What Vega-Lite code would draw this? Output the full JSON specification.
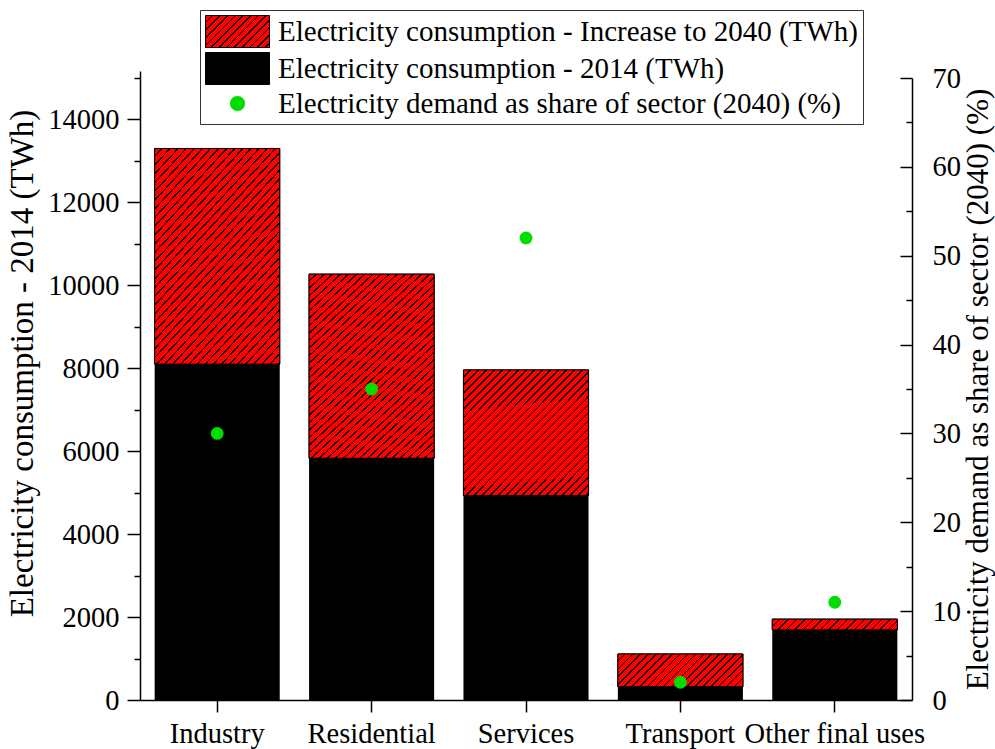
{
"$schema":"https://vega.github.io/schema/vega-lite/v6.json",
"width":772,"height":622,
"autosize":{"type":"none"},
"padding":{"left":140,"top":78,"right":83,"bottom":49},
"background":"white",
"config":{"view":{"stroke":null},
 "axis":{"labelFont":"Liberation Serif","titleFont":"Liberation Serif","labelFontSize":28.5,"titleFontSize":33,"titleFontWeight":"normal","labelColor":"black","titleColor":"black","domainColor":"black","tickColor":"black","domainWidth":1.5,"tickWidth":1.5,"grid":false}},
"data":{"values":[
 {"sector":"Industry","c2014":8100,"total2040":13300,"share2040":30},
 {"sector":"Residential","c2014":5830,"total2040":10270,"share2040":35},
 {"sector":"Services","c2014":4930,"total2040":7960,"share2040":52},
 {"sector":"Transport","c2014":320,"total2040":1110,"share2040":2},
 {"sector":"Other final uses","c2014":1690,"total2040":1950,"share2040":11}
]},
"layer":[
 {"layer":[
  {"mark":{"type":"bar","width":{"band":0.81},"stroke":"black","strokeWidth":1},
   "encoding":{
    "x":{"field":"sector","type":"nominal","sort":null,"title":null,"scale":{"paddingInner":0,"paddingOuter":0},
     "axis":{"labelAngle":0,"tickSize":12,"labelPadding":7,"labelOverlap":false,"labelBound":false,"labelLimit":400}},
    "y":{"field":"total2040","type":"quantitative","scale":{"domain":[0,15000],"nice":false},"title":"Electricity consumption - 2014 (TWh)",
     "axis":{"values":[0,1000,2000,3000,4000,5000,6000,7000,8000,9000,10000,11000,12000,13000,14000,15000],"format":"d",
      "labelExpr":"datum.value % 2000 === 0 ? datum.label : ''",
      "tickSize":{"condition":{"test":"datum.value % 2000 === 0","value":13},"value":6},
      "labelPadding":8,"titlePadding":8,"titleY":285}},
    "y2":{"field":"c2014"},
    "fill":{"datum":"Electricity consumption - Increase to 2040 (TWh)","type":"nominal",
     "scale":{"domain":["Electricity consumption - Increase to 2040 (TWh)","Electricity consumption - 2014 (TWh)","Electricity demand as share of sector (2040) (%)"],
      "range":[{"expr":"{gradient:'linear',x1:0,y1:0,x2:1.2,y2:0.6,stops:[{offset:0,color:'red'},{offset:0.064,color:'red'},{offset:0.064,color:'#000'},{offset:0.08,color:'#000'},{offset:0.08,color:'red'},{offset:0.144,color:'red'},{offset:0.144,color:'#000'},{offset:0.16,color:'#000'},{offset:0.16,color:'red'},{offset:0.224,color:'red'},{offset:0.224,color:'#000'},{offset:0.24,color:'#000'},{offset:0.24,color:'red'},{offset:0.304,color:'red'},{offset:0.304,color:'#000'},{offset:0.32,color:'#000'},{offset:0.32,color:'red'},{offset:0.384,color:'red'},{offset:0.384,color:'#000'},{offset:0.4,color:'#000'},{offset:0.4,color:'red'},{offset:0.464,color:'red'},{offset:0.464,color:'#000'},{offset:0.48,color:'#000'},{offset:0.48,color:'red'},{offset:0.544,color:'red'},{offset:0.544,color:'#000'},{offset:0.56,color:'#000'},{offset:0.56,color:'red'},{offset:0.624,color:'red'},{offset:0.624,color:'#000'},{offset:0.64,color:'#000'},{offset:0.64,color:'red'},{offset:0.704,color:'red'},{offset:0.704,color:'#000'},{offset:0.72,color:'#000'},{offset:0.72,color:'red'},{offset:0.784,color:'red'},{offset:0.784,color:'#000'},{offset:0.8,color:'#000'},{offset:0.8,color:'red'},{offset:0.864,color:'red'},{offset:0.864,color:'#000'},{offset:0.88,color:'#000'},{offset:0.88,color:'red'},{offset:0.944,color:'red'},{offset:0.944,color:'#000'},{offset:0.96,color:'#000'},{offset:0.96,color:'red'},{offset:1,color:'red'}]}"},"black","#00dd00"]},
     "legend":{"title":null,"orient":"none","legendX":60,"legendY":-68,"labelFont":"Liberation Serif","labelFontSize":29,"labelColor":"black","labelLimit":1000,
      "symbolType":"M-2,-1H2V1H-2Z","symbolSize":1024,"symbolStrokeColor":"black","symbolStrokeWidth":1,"symbolOpacity":1,
      "symbolOffset":16,"labelOffset":24,"rowPadding":0,"padding":5,"strokeColor":"#333","fillColor":"white",
      "encode":{"symbols":{"update":{
       "shape":[{"test":"datum.value === 'Electricity demand as share of sector (2040) (%)'","value":"M-0.47,0A0.47,0.47,0,1,0,0.47,0A0.47,0.47,0,1,0,-0.47,0Z"},{"value":"M-2,-1H2V1H-2Z"}],
       "stroke":[{"test":"datum.value === 'Electricity demand as share of sector (2040) (%)'","value":"transparent"},{"value":"black"}]
      }}}}}
   }},
  {"mark":{"type":"bar","width":{"band":0.81},"stroke":"black","strokeWidth":1},
   "encoding":{
    "x":{"field":"sector","type":"nominal","sort":null,"title":null},
    "y":{"field":"total2040","type":"quantitative","title":"Electricity consumption - 2014 (TWh)"},
    "y2":{"field":"c2014"},
    "fill":{"condition":[
     {"test":"datum.sector === 'Industry' || datum.sector === 'Residential'","value":{"gradient":"linear","x1":0,"y1":0,"x2":0.73,"y2":1.165,"stops":[
{"offset":0,"color":"red"},{"offset":0.02,"color":"red"},{"offset":0.02,"color":"#000"},{"offset":0.025,"color":"#000"},
{"offset":0.025,"color":"red"},{"offset":0.045,"color":"red"},{"offset":0.045,"color":"#000"},{"offset":0.05,"color":"#000"},
{"offset":0.05,"color":"red"},{"offset":0.07,"color":"red"},{"offset":0.07,"color":"#000"},{"offset":0.075,"color":"#000"},
{"offset":0.075,"color":"red"},{"offset":0.095,"color":"red"},{"offset":0.095,"color":"#000"},{"offset":0.1,"color":"#000"},
{"offset":0.1,"color":"red"},{"offset":0.12,"color":"red"},{"offset":0.12,"color":"#000"},{"offset":0.125,"color":"#000"},
{"offset":0.125,"color":"red"},{"offset":0.145,"color":"red"},{"offset":0.145,"color":"#000"},{"offset":0.15,"color":"#000"},
{"offset":0.15,"color":"red"},{"offset":0.17,"color":"red"},{"offset":0.17,"color":"#000"},{"offset":0.175,"color":"#000"},
{"offset":0.175,"color":"red"},{"offset":0.195,"color":"red"},{"offset":0.195,"color":"#000"},{"offset":0.2,"color":"#000"},
{"offset":0.2,"color":"red"},{"offset":0.22,"color":"red"},{"offset":0.22,"color":"#000"},{"offset":0.225,"color":"#000"},
{"offset":0.225,"color":"red"},{"offset":0.245,"color":"red"},{"offset":0.245,"color":"#000"},{"offset":0.25,"color":"#000"},
{"offset":0.25,"color":"red"},{"offset":0.27,"color":"red"},{"offset":0.27,"color":"#000"},{"offset":0.275,"color":"#000"},
{"offset":0.275,"color":"red"},{"offset":0.295,"color":"red"},{"offset":0.295,"color":"#000"},{"offset":0.3,"color":"#000"},
{"offset":0.3,"color":"red"},{"offset":0.32,"color":"red"},{"offset":0.32,"color":"#000"},{"offset":0.325,"color":"#000"},
{"offset":0.325,"color":"red"},{"offset":0.345,"color":"red"},{"offset":0.345,"color":"#000"},{"offset":0.35,"color":"#000"},
{"offset":0.35,"color":"red"},{"offset":0.37,"color":"red"},{"offset":0.37,"color":"#000"},{"offset":0.375,"color":"#000"},
{"offset":0.375,"color":"red"},{"offset":0.395,"color":"red"},{"offset":0.395,"color":"#000"},{"offset":0.4,"color":"#000"},
{"offset":0.4,"color":"red"},{"offset":0.42,"color":"red"},{"offset":0.42,"color":"#000"},{"offset":0.425,"color":"#000"},
{"offset":0.425,"color":"red"},{"offset":0.445,"color":"red"},{"offset":0.445,"color":"#000"},{"offset":0.45,"color":"#000"},
{"offset":0.45,"color":"red"},{"offset":0.47,"color":"red"},{"offset":0.47,"color":"#000"},{"offset":0.475,"color":"#000"},
{"offset":0.475,"color":"red"},{"offset":0.495,"color":"red"},{"offset":0.495,"color":"#000"},{"offset":0.5,"color":"#000"},
{"offset":0.5,"color":"red"},{"offset":0.52,"color":"red"},{"offset":0.52,"color":"#000"},{"offset":0.525,"color":"#000"},
{"offset":0.525,"color":"red"},{"offset":0.545,"color":"red"},{"offset":0.545,"color":"#000"},{"offset":0.55,"color":"#000"},
{"offset":0.55,"color":"red"},{"offset":0.57,"color":"red"},{"offset":0.57,"color":"#000"},{"offset":0.575,"color":"#000"},
{"offset":0.575,"color":"red"},{"offset":0.595,"color":"red"},{"offset":0.595,"color":"#000"},{"offset":0.6,"color":"#000"},
{"offset":0.6,"color":"red"},{"offset":0.62,"color":"red"},{"offset":0.62,"color":"#000"},{"offset":0.625,"color":"#000"},
{"offset":0.625,"color":"red"},{"offset":0.645,"color":"red"},{"offset":0.645,"color":"#000"},{"offset":0.65,"color":"#000"},
{"offset":0.65,"color":"red"},{"offset":0.67,"color":"red"},{"offset":0.67,"color":"#000"},{"offset":0.675,"color":"#000"},
{"offset":0.675,"color":"red"},{"offset":0.695,"color":"red"},{"offset":0.695,"color":"#000"},{"offset":0.7,"color":"#000"},
{"offset":0.7,"color":"red"},{"offset":0.72,"color":"red"},{"offset":0.72,"color":"#000"},{"offset":0.725,"color":"#000"},
{"offset":0.725,"color":"red"},{"offset":0.745,"color":"red"},{"offset":0.745,"color":"#000"},{"offset":0.75,"color":"#000"},
{"offset":0.75,"color":"red"},{"offset":0.77,"color":"red"},{"offset":0.77,"color":"#000"},{"offset":0.775,"color":"#000"},
{"offset":0.775,"color":"red"},{"offset":0.795,"color":"red"},{"offset":0.795,"color":"#000"},{"offset":0.8,"color":"#000"},
{"offset":0.8,"color":"red"},{"offset":0.82,"color":"red"},{"offset":0.82,"color":"#000"},{"offset":0.825,"color":"#000"},
{"offset":0.825,"color":"red"},{"offset":0.845,"color":"red"},{"offset":0.845,"color":"#000"},{"offset":0.85,"color":"#000"},
{"offset":0.85,"color":"red"},{"offset":0.87,"color":"red"},{"offset":0.87,"color":"#000"},{"offset":0.875,"color":"#000"},
{"offset":0.875,"color":"red"},{"offset":0.895,"color":"red"},{"offset":0.895,"color":"#000"},{"offset":0.9,"color":"#000"},
{"offset":0.9,"color":"red"},{"offset":0.92,"color":"red"},{"offset":0.92,"color":"#000"},{"offset":0.925,"color":"#000"},
{"offset":0.925,"color":"red"},{"offset":0.945,"color":"red"},{"offset":0.945,"color":"#000"},{"offset":0.95,"color":"#000"},
{"offset":0.95,"color":"red"},{"offset":0.97,"color":"red"},{"offset":0.97,"color":"#000"},{"offset":0.975,"color":"#000"},
{"offset":0.975,"color":"red"},{"offset":0.995,"color":"red"},{"offset":0.995,"color":"#000"},{"offset":1,"color":"#000"}]}},
     {"test":"datum.sector === 'Services'","value":{"gradient":"linear","x1":0,"y1":0,"x2":1,"y2":1,"stops":[
{"offset":0,"color":"red"},{"offset":0.0256,"color":"red"},{"offset":0.0256,"color":"#000"},{"offset":0.032,"color":"#000"},
{"offset":0.032,"color":"red"},{"offset":0.0576,"color":"red"},{"offset":0.0576,"color":"#000"},{"offset":0.064,"color":"#000"},
{"offset":0.064,"color":"red"},{"offset":0.0896,"color":"red"},{"offset":0.0896,"color":"#000"},{"offset":0.096,"color":"#000"},
{"offset":0.096,"color":"red"},{"offset":0.1216,"color":"red"},{"offset":0.1216,"color":"#000"},{"offset":0.128,"color":"#000"},
{"offset":0.128,"color":"red"},{"offset":0.1536,"color":"red"},{"offset":0.1536,"color":"#000"},{"offset":0.16,"color":"#000"},
{"offset":0.16,"color":"red"},{"offset":0.1856,"color":"red"},{"offset":0.1856,"color":"#000"},{"offset":0.192,"color":"#000"},
{"offset":0.192,"color":"red"},{"offset":0.2176,"color":"red"},{"offset":0.2176,"color":"#000"},{"offset":0.224,"color":"#000"},
{"offset":0.224,"color":"red"},{"offset":0.2496,"color":"red"},{"offset":0.2496,"color":"#000"},{"offset":0.256,"color":"#000"},
{"offset":0.256,"color":"red"},{"offset":0.2816,"color":"red"},{"offset":0.2816,"color":"#000"},{"offset":0.288,"color":"#000"},
{"offset":0.288,"color":"red"},{"offset":0.3136,"color":"red"},{"offset":0.3136,"color":"#000"},{"offset":0.32,"color":"#000"},
{"offset":0.32,"color":"red"},{"offset":0.3456,"color":"red"},{"offset":0.3456,"color":"#000"},{"offset":0.352,"color":"#000"},
{"offset":0.352,"color":"red"},{"offset":0.3776,"color":"red"},{"offset":0.3776,"color":"#000"},{"offset":0.384,"color":"#000"},
{"offset":0.384,"color":"red"},{"offset":0.4096,"color":"red"},{"offset":0.4096,"color":"#000"},{"offset":0.416,"color":"#000"},
{"offset":0.416,"color":"red"},{"offset":0.4416,"color":"red"},{"offset":0.4416,"color":"#000"},{"offset":0.448,"color":"#000"},
{"offset":0.448,"color":"red"},{"offset":0.4736,"color":"red"},{"offset":0.4736,"color":"#000"},{"offset":0.48,"color":"#000"},
{"offset":0.48,"color":"red"},{"offset":0.5056,"color":"red"},{"offset":0.5056,"color":"#000"},{"offset":0.512,"color":"#000"},
{"offset":0.512,"color":"red"},{"offset":0.5376,"color":"red"},{"offset":0.5376,"color":"#000"},{"offset":0.544,"color":"#000"},
{"offset":0.544,"color":"red"},{"offset":0.5696,"color":"red"},{"offset":0.5696,"color":"#000"},{"offset":0.576,"color":"#000"},
{"offset":0.576,"color":"red"},{"offset":0.6016,"color":"red"},{"offset":0.6016,"color":"#000"},{"offset":0.608,"color":"#000"},
{"offset":0.608,"color":"red"},{"offset":0.6336,"color":"red"},{"offset":0.6336,"color":"#000"},{"offset":0.64,"color":"#000"},
{"offset":0.64,"color":"red"},{"offset":0.6656,"color":"red"},{"offset":0.6656,"color":"#000"},{"offset":0.672,"color":"#000"},
{"offset":0.672,"color":"red"},{"offset":0.6976,"color":"red"},{"offset":0.6976,"color":"#000"},{"offset":0.704,"color":"#000"},
{"offset":0.704,"color":"red"},{"offset":0.7296,"color":"red"},{"offset":0.7296,"color":"#000"},{"offset":0.736,"color":"#000"},
{"offset":0.736,"color":"red"},{"offset":0.7616,"color":"red"},{"offset":0.7616,"color":"#000"},{"offset":0.768,"color":"#000"},
{"offset":0.768,"color":"red"},{"offset":0.7936,"color":"red"},{"offset":0.7936,"color":"#000"},{"offset":0.8,"color":"#000"},
{"offset":0.8,"color":"red"},{"offset":0.8256,"color":"red"},{"offset":0.8256,"color":"#000"},{"offset":0.832,"color":"#000"},
{"offset":0.832,"color":"red"},{"offset":0.8576,"color":"red"},{"offset":0.8576,"color":"#000"},{"offset":0.864,"color":"#000"},
{"offset":0.864,"color":"red"},{"offset":0.8896,"color":"red"},{"offset":0.8896,"color":"#000"},{"offset":0.896,"color":"#000"},
{"offset":0.896,"color":"red"},{"offset":0.9216,"color":"red"},{"offset":0.9216,"color":"#000"},{"offset":0.928,"color":"#000"},
{"offset":0.928,"color":"red"},{"offset":0.9536,"color":"red"},{"offset":0.9536,"color":"#000"},{"offset":0.96,"color":"#000"},
{"offset":0.96,"color":"red"},{"offset":0.9856,"color":"red"},{"offset":0.9856,"color":"#000"},{"offset":0.992,"color":"#000"},
{"offset":0.992,"color":"red"},{"offset":1,"color":"red"}]}},
     {"test":"datum.sector === 'Transport'","value":{"gradient":"linear","x1":0,"y1":0,"x2":1.1811,"y2":0.3099,"stops":[
{"offset":0,"color":"red"},{"offset":0.04,"color":"red"},{"offset":0.04,"color":"#000"},{"offset":0.05,"color":"#000"},
{"offset":0.05,"color":"red"},{"offset":0.09,"color":"red"},{"offset":0.09,"color":"#000"},{"offset":0.1,"color":"#000"},
{"offset":0.1,"color":"red"},{"offset":0.14,"color":"red"},{"offset":0.14,"color":"#000"},{"offset":0.15,"color":"#000"},
{"offset":0.15,"color":"red"},{"offset":0.19,"color":"red"},{"offset":0.19,"color":"#000"},{"offset":0.2,"color":"#000"},
{"offset":0.2,"color":"red"},{"offset":0.24,"color":"red"},{"offset":0.24,"color":"#000"},{"offset":0.25,"color":"#000"},
{"offset":0.25,"color":"red"},{"offset":0.29,"color":"red"},{"offset":0.29,"color":"#000"},{"offset":0.3,"color":"#000"},
{"offset":0.3,"color":"red"},{"offset":0.34,"color":"red"},{"offset":0.34,"color":"#000"},{"offset":0.35,"color":"#000"},
{"offset":0.35,"color":"red"},{"offset":0.39,"color":"red"},{"offset":0.39,"color":"#000"},{"offset":0.4,"color":"#000"},
{"offset":0.4,"color":"red"},{"offset":0.44,"color":"red"},{"offset":0.44,"color":"#000"},{"offset":0.45,"color":"#000"},
{"offset":0.45,"color":"red"},{"offset":0.49,"color":"red"},{"offset":0.49,"color":"#000"},{"offset":0.5,"color":"#000"},
{"offset":0.5,"color":"red"},{"offset":0.54,"color":"red"},{"offset":0.54,"color":"#000"},{"offset":0.55,"color":"#000"},
{"offset":0.55,"color":"red"},{"offset":0.59,"color":"red"},{"offset":0.59,"color":"#000"},{"offset":0.6,"color":"#000"},
{"offset":0.6,"color":"red"},{"offset":0.64,"color":"red"},{"offset":0.64,"color":"#000"},{"offset":0.65,"color":"#000"},
{"offset":0.65,"color":"red"},{"offset":0.69,"color":"red"},{"offset":0.69,"color":"#000"},{"offset":0.7,"color":"#000"},
{"offset":0.7,"color":"red"},{"offset":0.74,"color":"red"},{"offset":0.74,"color":"#000"},{"offset":0.75,"color":"#000"},
{"offset":0.75,"color":"red"},{"offset":0.79,"color":"red"},{"offset":0.79,"color":"#000"},{"offset":0.8,"color":"#000"},
{"offset":0.8,"color":"red"},{"offset":0.84,"color":"red"},{"offset":0.84,"color":"#000"},{"offset":0.85,"color":"#000"},
{"offset":0.85,"color":"red"},{"offset":0.89,"color":"red"},{"offset":0.89,"color":"#000"},{"offset":0.9,"color":"#000"},
{"offset":0.9,"color":"red"},{"offset":0.94,"color":"red"},{"offset":0.94,"color":"#000"},{"offset":0.95,"color":"#000"},
{"offset":0.95,"color":"red"},{"offset":0.99,"color":"red"},{"offset":0.99,"color":"#000"},{"offset":1,"color":"#000"}]}}],
     "value":{"gradient":"linear","x1":0,"y1":0,"x2":1.0784,"y2":0.0932,"stops":[
{"offset":0,"color":"red"},{"offset":0.05,"color":"red"},{"offset":0.05,"color":"#000"},{"offset":0.0625,"color":"#000"},
{"offset":0.0625,"color":"red"},{"offset":0.1125,"color":"red"},{"offset":0.1125,"color":"#000"},{"offset":0.125,"color":"#000"},
{"offset":0.125,"color":"red"},{"offset":0.175,"color":"red"},{"offset":0.175,"color":"#000"},{"offset":0.1875,"color":"#000"},
{"offset":0.1875,"color":"red"},{"offset":0.2375,"color":"red"},{"offset":0.2375,"color":"#000"},{"offset":0.25,"color":"#000"},
{"offset":0.25,"color":"red"},{"offset":0.3,"color":"red"},{"offset":0.3,"color":"#000"},{"offset":0.3125,"color":"#000"},
{"offset":0.3125,"color":"red"},{"offset":0.3625,"color":"red"},{"offset":0.3625,"color":"#000"},{"offset":0.375,"color":"#000"},
{"offset":0.375,"color":"red"},{"offset":0.425,"color":"red"},{"offset":0.425,"color":"#000"},{"offset":0.4375,"color":"#000"},
{"offset":0.4375,"color":"red"},{"offset":0.4875,"color":"red"},{"offset":0.4875,"color":"#000"},{"offset":0.5,"color":"#000"},
{"offset":0.5,"color":"red"},{"offset":0.55,"color":"red"},{"offset":0.55,"color":"#000"},{"offset":0.5625,"color":"#000"},
{"offset":0.5625,"color":"red"},{"offset":0.6125,"color":"red"},{"offset":0.6125,"color":"#000"},{"offset":0.625,"color":"#000"},
{"offset":0.625,"color":"red"},{"offset":0.675,"color":"red"},{"offset":0.675,"color":"#000"},{"offset":0.6875,"color":"#000"},
{"offset":0.6875,"color":"red"},{"offset":0.7375,"color":"red"},{"offset":0.7375,"color":"#000"},{"offset":0.75,"color":"#000"},
{"offset":0.75,"color":"red"},{"offset":0.8,"color":"red"},{"offset":0.8,"color":"#000"},{"offset":0.8125,"color":"#000"},
{"offset":0.8125,"color":"red"},{"offset":0.8625,"color":"red"},{"offset":0.8625,"color":"#000"},{"offset":0.875,"color":"#000"},
{"offset":0.875,"color":"red"},{"offset":0.925,"color":"red"},{"offset":0.925,"color":"#000"},{"offset":0.9375,"color":"#000"},
{"offset":0.9375,"color":"red"},{"offset":0.9875,"color":"red"},{"offset":0.9875,"color":"#000"},{"offset":1,"color":"#000"}]}}
   }},
  {"mark":{"type":"bar","width":{"band":0.81}},
   "encoding":{
    "x":{"field":"sector","type":"nominal","sort":null,"title":null},
    "y":{"field":"c2014","type":"quantitative","title":"Electricity consumption - 2014 (TWh)"},
    "fill":{"datum":"Electricity consumption - 2014 (TWh)","type":"nominal"}
   }}
 ]},
 {"mark":{"type":"circle","size":165,"opacity":1},
  "encoding":{
   "x":{"field":"sector","type":"nominal","sort":null,"title":null,
    "axis":{"bandPosition":0,"labels":false,"domain":false,"tickSize":7}},
   "y":{"field":"share2040","type":"quantitative","scale":{"domain":[0,70],"nice":false},"title":"Electricity demand as share of sector (2040) (%)",
    "axis":{"orient":"right","values":[0,5,10,15,20,25,30,35,40,45,50,55,60,65,70],
     "labelExpr":"datum.value % 10 === 0 ? datum.label : ''",
     "tickSize":{"condition":{"test":"datum.value % 10 === 0","value":-12},"value":-6},
     "labelPadding":32,"titleAngle":270,"titleBaseline":"top","titlePadding":3,"titleFontSize":31}},
   "fill":{"datum":"Electricity demand as share of sector (2040) (%)","type":"nominal"}
  }}
],
"resolve":{"scale":{"y":"independent"},"axis":{"x":"independent"}}
}
